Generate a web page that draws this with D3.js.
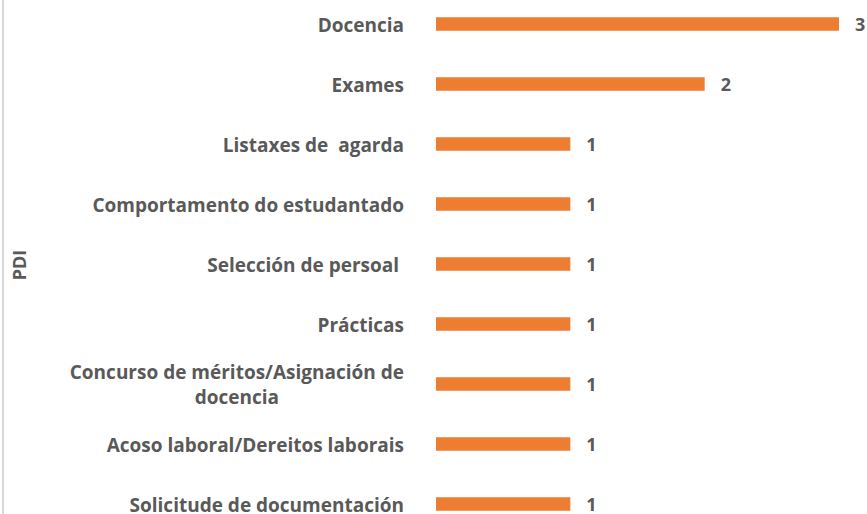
<!DOCTYPE html>
<html>
<head>
<meta charset="utf-8">
<script src="https://cdn.jsdelivr.net/npm/d3@7"></script>
<style>
	body { margin: 0; background: #fff; }
	svg { display: block; }
</style>
</head>
<body>
<div id="chart"></div>
<script>
// categories top to bottom, wrapped ones split into lines
const categories = [
	["Docencia"],
	["Exames"],
	["Listaxes de  agarda"],
	["Comportamento do estudantado"],
	["Selección de persoal "],
	["Prácticas"],
	["Concurso de méritos/Asignación de", "docencia"],
	["Acoso laboral/Dereitos laborais"],
	["Solicitude de documentación"]
];
const values = [3, 2, 1, 1, 1, 1, 1, 1, 1];
const axisTitle = "PDI";

const width = 867, height = 514;
const textColor = "#595959";
const barColor = "#ED7D31";
const fontFam = "'Open Sans', sans-serif";

const svg = d3.select("#chart").append("svg")
	.attr("width", width)
	.attr("height", height);

const rows = categories.map((c, i) => ({ lines: c, key: c.join(" "), value: values[i] }));

const x = d3.scaleLinear()
	.domain([0, 3])
	.range([436, 839]);

const y = d3.scalePoint()
	.domain(rows.map(d => d.key))
	.range([24, 504]);

const barH = 13.5;

// left border line
svg.append("line")
	.attr("x1", 3).attr("x2", 3)
	.attr("y1", 0).attr("y2", height)
	.attr("stroke", "#d9d9d9")
	.attr("stroke-width", 2);

// axis title
svg.append("text")
	.attr("transform", "translate(20,265) rotate(-90)")
	.attr("text-anchor", "middle")
	.attr("dy", "0.35em")
	.attr("fill", textColor)
	.style("font-family", fontFam)
	.style("font-weight", "700")
	.style("font-size", "18px")
	.text(axisTitle);

// bars
svg.selectAll("rect.bar")
	.data(rows)
	.enter().append("rect")
	.attr("class", "bar")
	.attr("x", x(0))
	.attr("y", d => y(d.key) - barH / 2)
	.attr("width", d => x(d.value) - x(0))
	.attr("height", barH)
	.attr("fill", barColor);

// value labels
svg.selectAll("text.val")
	.data(rows)
	.enter().append("text")
	.attr("class", "val")
	.attr("x", d => x(d.value) + 16)
	.attr("y", d => y(d.key))
	.attr("dy", "0.4em")
	.attr("fill", textColor)
	.style("font-family", fontFam)
	.style("font-weight", "700")
	.style("font-size", "18px")
	.text(d => d.value);

// category labels
const labelRight = 404;
const lineGap = 25;
svg.selectAll("text.cat")
	.data(rows)
	.enter().append("text")
	.attr("class", "cat")
	.attr("fill", textColor)
	.style("font-family", fontFam)
	.style("font-weight", "700")
	.style("font-size", "19px")
	.style("white-space", "pre")
	.each(function (d)
	{
		const t = d3.select(this);
		const n = d.lines.length;
		const y0 = y(d.key) - (n - 1) * lineGap / 2;
		if (n === 1)
		{
			t.attr("x", labelRight).attr("y", y0).attr("dy", "0.4em")
				.attr("text-anchor", "end").text(d.lines[0]);
			return;
		}
		// wrapped label: first line flush right, others centered under it
		const first = t.append("tspan").text(d.lines[0]);
		const w = first.node().getComputedTextLength();
		const cx = labelRight - w / 2;
		t.attr("text-anchor", "middle");
		first.attr("x", cx).attr("y", y0).attr("dy", "0.4em");
		d.lines.slice(1).forEach((ln, j) =>
		{
			t.append("tspan").attr("x", cx).attr("y", y0 + (j + 1) * lineGap)
				.attr("dy", "0.4em").text(ln);
		});
	});
</script>
</body>
</html>
